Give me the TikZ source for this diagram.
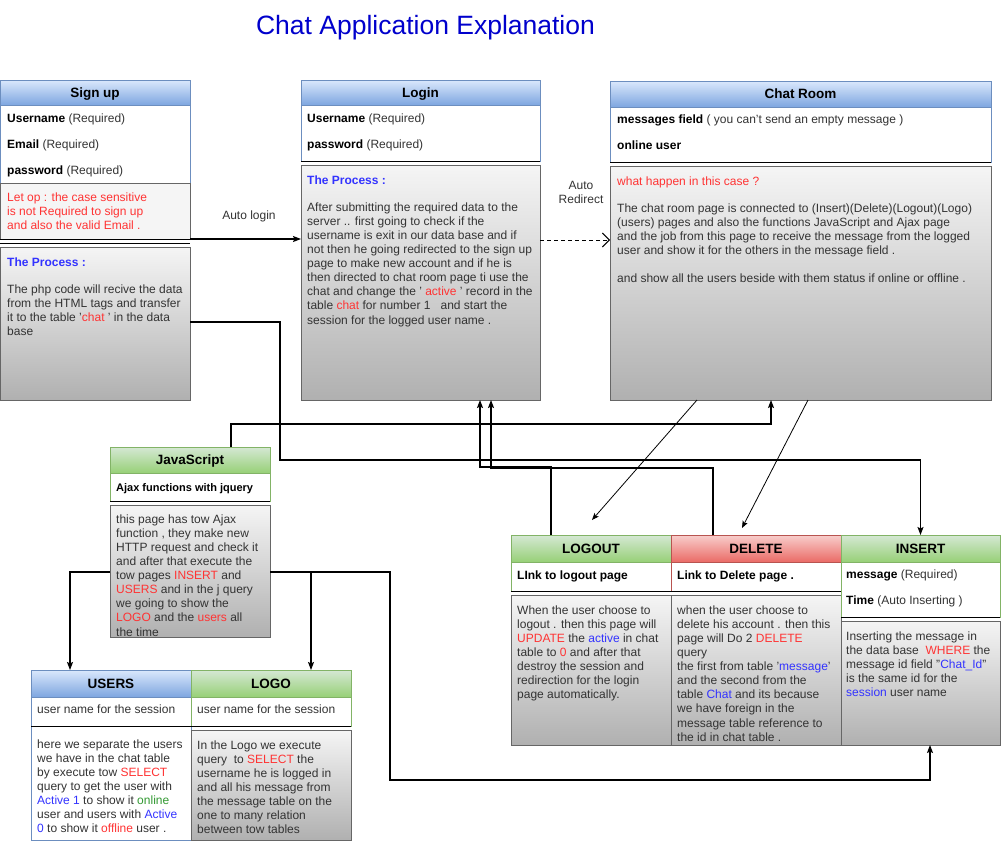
\documentclass[tikz,border=0pt]{standalone}
\usepackage{fontspec}
\setmainfont{Liberation Sans}
\usetikzlibrary{arrows.meta}
\definecolor{hbt}{HTML}{DAE8FC}\definecolor{hbb}{HTML}{7EA6E0}\definecolor{hbs}{HTML}{6C8EBF}
\definecolor{hgt}{HTML}{D5E8D4}\definecolor{hgb}{HTML}{97D077}\definecolor{hgs}{HTML}{82B366}
\definecolor{hrt}{HTML}{F8CECC}\definecolor{hrb}{HTML}{EA6B66}\definecolor{hrs}{HTML}{B85450}
\definecolor{bdt}{HTML}{F5F5F5}\definecolor{bdb}{HTML}{B0B0B0}\definecolor{bds}{HTML}{666666}
\definecolor{tred}{HTML}{FF3333}\definecolor{tblue}{HTML}{3333FF}\definecolor{tgreen}{HTML}{339933}
\definecolor{tgray}{HTML}{333333}\definecolor{ttl}{HTML}{0000CC}
\newcommand\xR[1]{\textcolor{tred}{#1}}
\newcommand\xB[1]{\textcolor{tblue}{#1}}
\newcommand\xG[1]{\textcolor{tgreen}{#1}}
\newcommand\xK[1]{\textbf{\textcolor{black}{#1}}}
\newcommand\st{\rule{0pt}{9pt}}
\tikzset{
 box/.style={anchor=north west, inner sep=0pt, outer sep=0pt, line width=0.8pt},
 hdrtext/.style={font=\fontsize{13.5}{16}\selectfont\bfseries, text=black, text height=9.7pt, text depth=0pt},
 hb/.style={box, hdrtext, draw=hbs, top color=hbt, bottom color=hbb},
 hg/.style={box, hdrtext, draw=hgs, top color=hgt, bottom color=hgb},
 hr/.style={box, hdrtext, draw=hrs, top color=hrt, bottom color=hrb},
 fb/.style={box, draw=hbs, fill=white},
 fg/.style={box, draw=hgs, fill=white},
 fr/.style={box, draw=hrs, fill=white},
 bd/.style={box, draw=bds, top color=bdt, bottom color=bdb},
 txt/.style={anchor=north west, inner sep=0pt, align=left, font=\fontsize{12}{14.1}\selectfont, text=tgray},
 sepl/.style={line width=1pt, black},
 conn/.style={line width=1.1pt, black, -{Stealth[length=8pt,width=6pt,inset=1.5pt]}},
 thinconn/.style={line width=0.8pt, black, -{Stealth[length=7pt,width=5.5pt,inset=1.5pt]}},
}
\begin{document}
\begin{tikzpicture}[x=1pt,y=-1pt]
\fill[white] (0,0) rectangle (1001,844);
\useasboundingbox (0,0) rectangle (1001,844);

\node[font=\fontsize{26.5}{30}\selectfont, text=ttl] (title) at (425.5,28) {Chat Application Explanation};

% Sign up
\node[hb, minimum width=190pt, minimum height=25pt] (signh) at (0,80) {Sign up};
\node[fb, minimum width=190pt, minimum height=78pt] (signf) at (0,105) {};
\node[box, draw=bds, fill=bdt, minimum width=190pt, minimum height=56pt] (signr) at (0,183) {};
\draw[sepl] (signr.south west) -- (signr.south east);
\draw[sepl] ([yshift=-4pt]signr.south west) -- ([yshift=-4pt]signr.south east);
\node[bd, minimum width=190pt, minimum height=153pt] (signp) at (0,247) {};
\node[txt] (s1) at (7,113) {\st\xK{Username} (Required)};
\node[txt] (s2) at (7,139) {\st\xK{Email} (Required)};
\node[txt] (s3) at (7,165) {\st\xK{password} (Required)};
\node[txt, text=tred] (s4) at (7,192) {\st Let op : the case sensitive\\ is not Required to sign up\\ and also the valid Email .};
\node[txt, text=tblue] (s5) at (7,257) {\st\textbf{The Process :}};
\node[txt] (s6) at (7,284) {\st The php code will recive the data\\ from the HTML tags and transfer\\ it to the table '\xR{chat} ' in the data\\ base};

% Login
\node[hb, minimum width=239pt, minimum height=25pt] (logh) at (301,80) {Login};
\node[fb, minimum width=239pt, minimum height=56pt] (logf) at (301,105) {};
\draw[sepl] (logf.south west) -- (logf.south east);
\node[bd, minimum width=239pt, minimum height=235pt] (logb) at (301,165) {};
\node[txt] (l1) at (307,113) {\st\xK{Username} (Required)};
\node[txt] (l2) at (307,139) {\st\xK{password} (Required)};
\node[txt, text=tblue] (l3) at (307,175) {\st\textbf{The Process :}};
\node[txt] (l4) at (307,202) {\st After submitting the required data to the\\ server .. first going to check if the\\ username is exit in our data base and if\\ not then he going redirected to the sign up\\ page to make new account and if he is\\ then directed to chat room page ti use the\\ chat and change the ' \xR{active} ' record in the\\ table \xR{chat} for number 1 \ \ and start the\\ session for the logged user name .};

% Chat Room
\node[hb, minimum width=381pt, minimum height=26pt] (chh) at (610,81) {Chat Room};
\node[fb, minimum width=381pt, minimum height=55pt] (chf) at (610,107) {};
\draw[sepl] (chf.south west) -- (chf.south east);
\node[bd, minimum width=381pt, minimum height=234pt] (chb) at (610,166) {};
\node[txt] (c1) at (617,114) {\st\xK{messages field} ( you can't send an empty message )};
\node[txt] (c2) at (617,140) {\st\xK{online user}};
\node[txt, text=tred] (c3) at (617,176) {\st what happen in this case ?};
\node[txt] (c4) at (617,203) {\st The chat room page is connected to (Insert)(Delete)(Logout)(Logo)\\ (users) pages and also the functions JavaScript and Ajax page\\ and the job from this page to receive the message from the logged\\ user and show it for the others in the message field .\\ \mbox{}\\ and show all the users beside with them status if online or offline .};

% labels
\node[txt, anchor=center] (autologin) at (249,216) {Auto login};
\node[txt, anchor=center, align=center] (autoredir) at (581,192) {Auto\\ Redirect};

% JavaScript
\node[hg, minimum width=160pt, minimum height=26pt] (jsh) at (110,447) {JavaScript};
\node[fg, minimum width=160pt, minimum height=28pt] (jsf) at (110,473) {};
\draw[sepl] (jsf.south west) -- (jsf.south east);
\node[bd, minimum width=160pt, minimum height=132pt] (jsb) at (110,505) {};
\node[txt, font=\fontsize{11}{13}\selectfont\bfseries, text=black] (j1) at (116,482) {\st Ajax functions with jquery};
\node[txt] (j2) at (116,514) {\st this page has tow Ajax\\ function , they make new\\ HTTP request and check it\\ and after that execute the\\ tow pages \xR{INSERT} and\\ \xR{USERS} and in the j query\\ we going to show the\\ \xR{LOGO} and the \xR{users} all\\ the time};

% USERS
\node[hb, minimum width=160pt, minimum height=27pt] (ush) at (31,670) {USERS};
\node[fb, minimum width=160pt, minimum height=29pt] (usf) at (31,697) {};
\node[fb, minimum width=160pt, minimum height=114pt] (usb) at (31,726) {};
\draw[sepl] (usf.south west) -- (usf.south east);
\node[txt] (u1) at (37,704) {\st user name for the session};
\node[txt] (u2) at (37,739) {\st here we separate the users\\ we have in the chat table\\ by execute tow \xR{SELECT}\\ query to get the user with\\ \xB{Active 1} to show it \xG{online}\\ user and users with \xB{Active}\\ \xB{0} to show it \xR{offline} user .};

% LOGO
\node[hg, minimum width=160pt, minimum height=27pt] (lgh) at (191,670) {LOGO};
\node[fg, minimum width=160pt, minimum height=29pt] (lgf) at (191,697) {};
\draw[sepl] (lgf.south west) -- (lgf.south east);
\node[bd, minimum width=160pt, minimum height=110pt] (lgb) at (191,730) {};
\node[txt] (g1) at (197,704) {\st user name for the session};
\node[txt] (g2) at (197,740) {\st In the Logo we execute\\ query \ to \xR{SELECT} the\\ username he is logged in\\ and all his message from\\ the message table on the\\ one to many relation\\ between tow tables};

% LOGOUT
\node[hg, minimum width=160pt, minimum height=27pt] (loh) at (511,535) {LOGOUT};
\node[fg, minimum width=160pt, minimum height=29pt] (lof) at (511,562) {};
\draw[sepl] (lof.south west) -- (lof.south east);
\node[bd, minimum width=160pt, minimum height=150pt] (lob) at (511,595) {};
\node[txt] (o1) at (517,570) {\st\xK{LInk to logout page}};
\node[txt] (o2) at (517,605) {\st When the user choose to\\ logout . then this page will\\ \xR{UPDATE} the \xB{active} in chat\\ table to \xR{0} and after that\\ destroy the session and\\ redirection for the login\\ page automatically.};

% DELETE
\node[hr, minimum width=170pt, minimum height=27pt] (deh) at (671,535) {DELETE};
\node[fr, minimum width=170pt, minimum height=29pt] (def) at (671,562) {};
\draw[sepl] (def.south west) -- (def.south east);
\node[bd, minimum width=170pt, minimum height=150pt] (deb) at (671,595) {};
\node[txt] (d1) at (677,570) {\st\xK{Link to Delete page .}};
\node[txt] (d2) at (677,605) {\st when the user choose to\\ delete his account . then this\\ page will Do 2 \xR{DELETE}\\ query\\ the first from table '\xB{message}'\\ and the second from the\\ table \xB{Chat} and its because\\ we have foreign in the\\ message table reference to\\ the id in chat table .};

% INSERT
\node[hg, minimum width=159pt, minimum height=27pt] (inh) at (841,535) {INSERT};
\node[fg, minimum width=159pt, minimum height=55pt] (inf) at (841,562) {};
\draw[sepl] (inf.south west) -- (inf.south east);
\node[bd, minimum width=159pt, minimum height=124pt] (inb) at (841,621) {};
\node[txt] (i1) at (846,569) {\st\xK{message} (Required)};
\node[txt] (i2) at (846,595) {\st\xK{Time} (Auto Inserting )};
\node[txt] (i3) at (846,631) {\st Inserting the message in\\ the data base \ \xR{WHERE} the\\ message id field "\xB{Chat\_Id}"\\ is the same id for the\\ \xB{session} user name};

% connectors
\coordinate (lotip) at (592,520);
\coordinate (detip) at (742,528);
\draw[conn] (signr.south east) -- (signr.south east -| logb.west);
\draw[line width=0.9pt, dash pattern=on 4pt off 3pt, -{Straight Barb[length=7pt,width=14pt]}] (logb.east |- 0,240) -- (chb.west |- 0,240);
\draw[conn] (signp.east |- 0,322) -- (280,322) -- (280,460) -| (inh.north);
\draw[conn] (jsh.north -| 231,0) -- (231,424) -| (chb.south -| 771,0);
\draw[conn] (jsb.west |- 0,572) -| (ush.north -| 70,0);
\draw[conn] (jsb.east |- 0,572) -| (lgh.north -| 311,0);
\draw[conn] (jsb.east |- 0,572) -- (390,572) -- (390,780) -| (inb.south -| 930,0);
\draw[thinconn] (chb.south -| 697,0) -- (lotip);
\draw[thinconn] (chb.south -| 808,0) -- (detip);
\draw[conn] (loh.north -| 551,0) -- (551,467) -| (logb.south -| 480,0);
\draw[conn] (deh.north -| 713,0) -- (713,468) -| (logb.south -| 491,0);
\end{tikzpicture}
\end{document}
